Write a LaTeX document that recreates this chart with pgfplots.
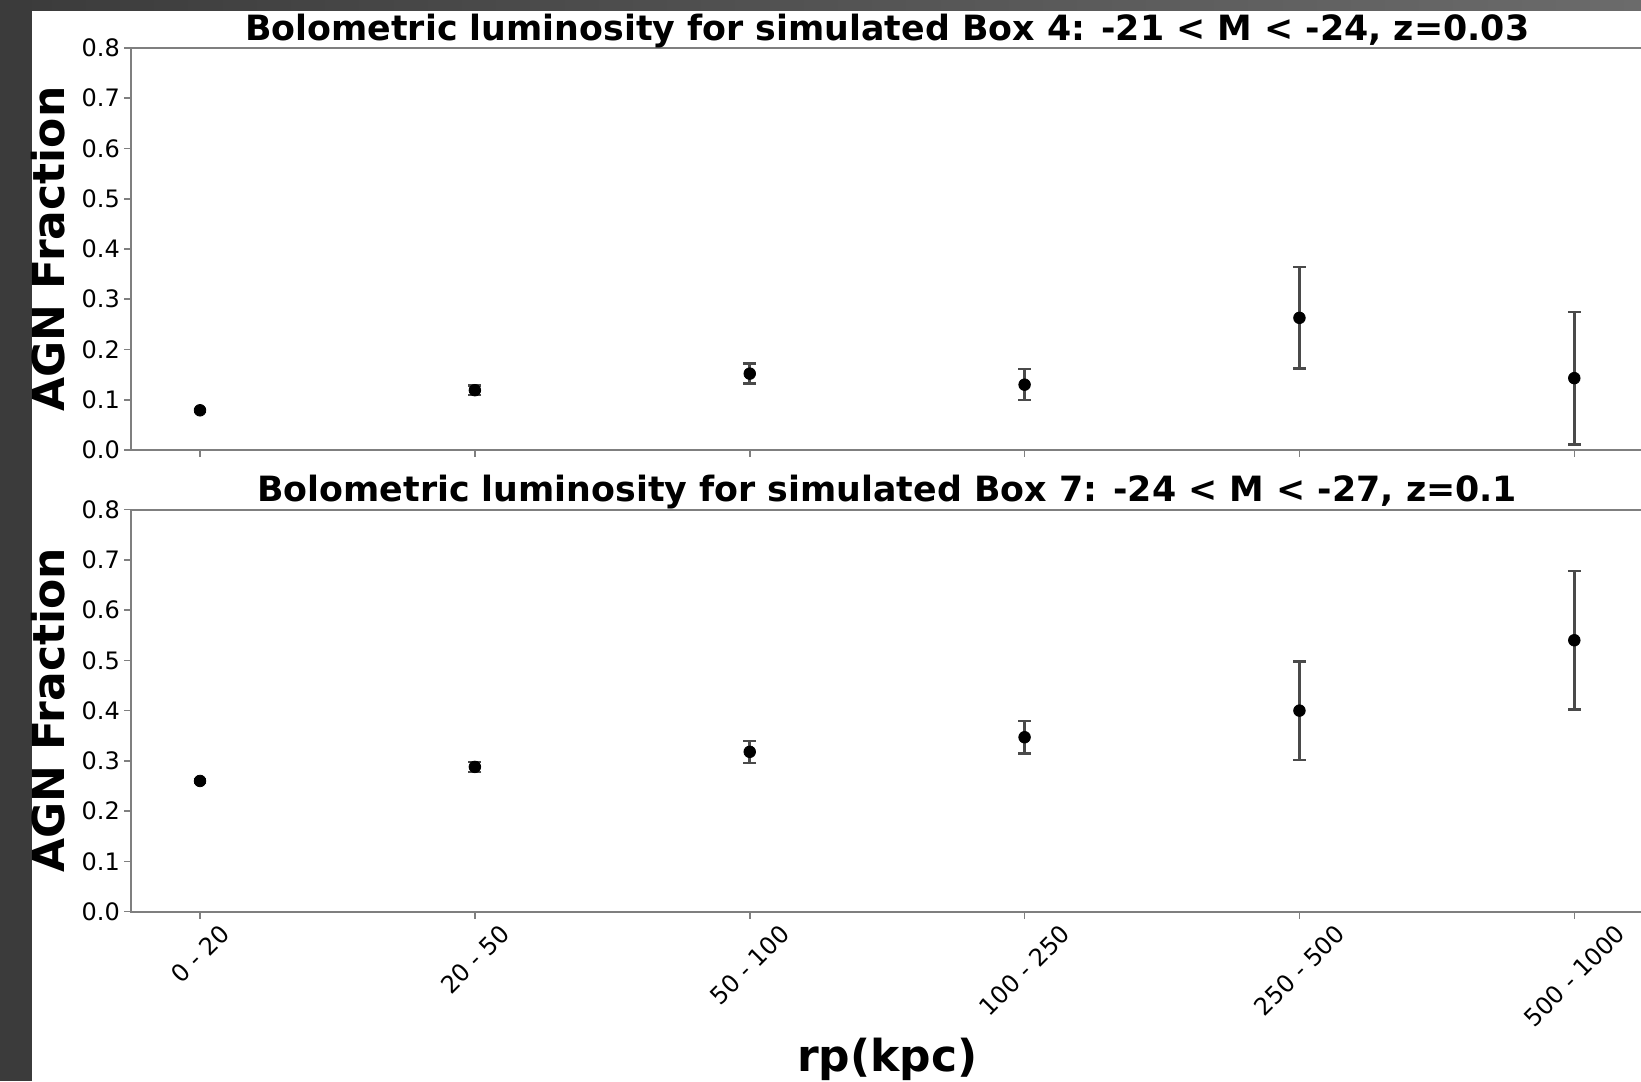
\documentclass[border=0pt]{standalone}
\usepackage{pgfplots}
\pgfplotsset{compat=1.18}
\usepackage{fontspec}
\setmainfont{DejaVu Sans}
\usepackage{graphicx}

\definecolor{spine}{HTML}{7F7F7F}
\definecolor{errgray}{HTML}{4A4A4A}
\definecolor{framedark}{HTML}{3B3B3B}
\definecolor{framelight}{HTML}{6B6B6B}

% AGN fraction per projected-separation bin (x = bin index)
\pgfplotstableread{
x y e
0 0.079 0.003
1 0.119 0.009
2 0.152 0.020
3 0.130 0.031
4 0.263 0.101
5 0.143 0.132
}\boxfour
\pgfplotstableread{
x y e
0 0.260 0.003
1 0.288 0.010
2 0.318 0.022
3 0.347 0.032
4 0.400 0.098
5 0.540 0.138
}\boxseven

\pgfplotsset{
  agnpanel/.style={
    scale only axis, width=755.85pt, height=201pt,
    anchor=south west,
    xmin=-0.25, xmax=5.25, ymin=0, ymax=0.8,
    xtick={0,1,2,3,4,5},
    ytick={0,0.1,0.2,0.3,0.4,0.5,0.6,0.7,0.8},
    axis line style={spine, line width=1pt},
    tick style={spine, line width=0.8pt},
    tick align=outside, major tick length=3.5pt,
    xtick pos=bottom, ytick pos=left,
    yticklabel style={font=\fontsize{12}{13}\selectfont, inner sep=0pt, xshift=-2pt, text=black,
      /pgf/number format/fixed, /pgf/number format/fixed zerofill,
      /pgf/number format/precision=1, /pgf/number format/assume math mode=true},
    xticklabel style={font=\fontsize{12}{13}\selectfont, anchor=north, inner sep=0pt, yshift=-2pt, text=black},
    title style={font=\fontsize{17.4}{19}\selectfont\bfseries, at={(axis description cs:0.5,1)}, anchor=base, yshift=-2pt},
    ylabel={AGN Fraction},
    ylabel style={font=\fontsize{22}{24}\selectfont\bfseries, at={(axis description cs:-0.0439,0.5)}, anchor=base},
  },
  agnpoints/.style={
    only marks, mark=*, mark size=2.9pt,
    mark options={fill=black, draw=black},
    error bars/.cd, y dir=both, y explicit,
    error bar style={errgray, line width=1.4pt},
    error mark options={rotate=90, mark size=3.2pt, errgray, line width=1.2pt},
  },
}

\begin{document}
\begin{tikzpicture}[x=1pt, y=1pt]
\path[use as bounding box] (0,0) rectangle (820.5,540.5);
\fill[white] (0,0) rectangle (820.5,540.5);
\shade[left color=framedark, right color=framelight] (0,535.25) rectangle (820.5,540.5);
\fill[framedark] (0,0) rectangle (16,540.5);

\begin{axis}[agnpanel, at={(65.65pt,315.5pt)},
  title={Bolometric luminosity for simulated Box 4: -21 < M < -24, z=0.03},
  xticklabels={}]
  \addplot+[agnpoints] table[x=x, y=y, y error=e] {\boxfour};
\end{axis}

\begin{axis}[agnpanel, at={(65.65pt,84.7pt)},
  title={Bolometric luminosity for simulated Box 7: -24 < M < -27, z=0.1},
  xticklabels={\rotatebox{45}{0 - 20}, \rotatebox{45}{20 - 50}, \rotatebox{45}{50 - 100},
               \rotatebox{45}{100 - 250}, \rotatebox{45}{250 - 500}, \rotatebox{45}{500 - 1000}},
  xlabel={rp(kpc)},
  xlabel style={font=\fontsize{22}{24}\selectfont\bfseries, at={(axis description cs:0.5,0)}, anchor=base, yshift=-79.7pt}]
  \addplot+[agnpoints] table[x=x, y=y, y error=e] {\boxseven};
\end{axis}
\end{tikzpicture}
\end{document}
